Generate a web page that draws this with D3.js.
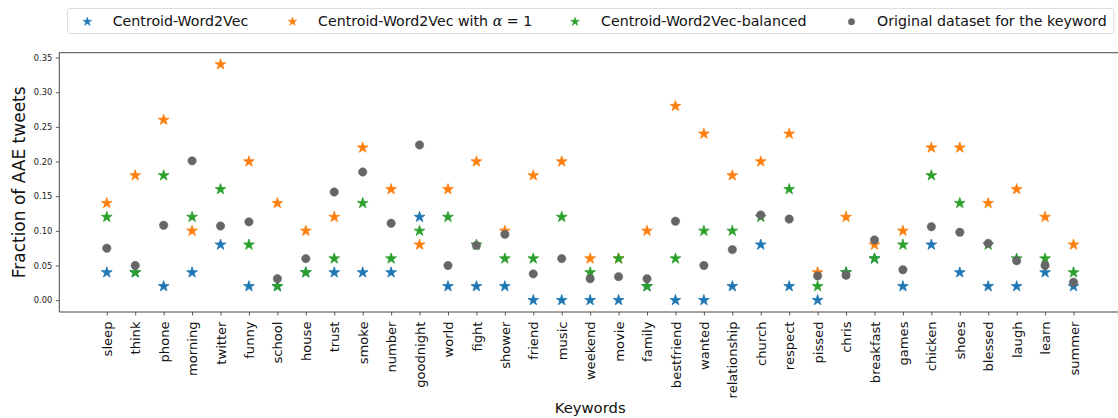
<!DOCTYPE html>
<html><head><meta charset="utf-8">
<script src="https://cdn.jsdelivr.net/npm/d3@7"></script>
<style>body{margin:0;background:#fff}svg{display:block;font-family:"DejaVu Sans",sans-serif}</style>
</head><body><svg id="c" width="1118" height="418"></svg>
<script>
const categories = ["sleep","think","phone","morning","twitter","funny","school","house","trust","smoke","number","goodnight","world","fight","shower","friend","music","weekend","movie","family","bestfriend","wanted","relationship","church","respect","pissed","chris","breakfast","games","chicken","shoes","blessed","laugh","learn","summer"];
const centroid = [0.04,0.04,0.02,0.04,0.08,0.02,0.02,0.04,0.04,0.04,0.04,0.12,0.02,0.02,0.02,0.00,0.00,0.00,0.00,0.02,0.00,0.00,0.02,0.08,0.02,0.00,0.04,0.06,0.02,0.08,0.04,0.02,0.02,0.04,0.02];
const centroidAlpha = [0.14,0.18,0.26,0.10,0.34,0.20,0.14,0.10,0.12,0.22,0.16,0.08,0.16,0.20,0.10,0.18,0.20,0.06,0.06,0.10,0.28,0.24,0.18,0.20,0.24,0.04,0.12,0.08,0.10,0.22,0.22,0.14,0.16,0.12,0.08];
const centroidBalanced = [0.12,0.04,0.18,0.12,0.16,0.08,0.02,0.04,0.06,0.14,0.06,0.10,0.12,0.08,0.06,0.06,0.12,0.04,0.06,0.02,0.06,0.10,0.10,0.12,0.16,0.02,0.04,0.06,0.08,0.18,0.14,0.08,0.06,0.06,0.04];
const original = [0.075,0.050,0.108,0.201,0.107,0.113,0.031,0.060,0.156,0.185,0.111,0.224,0.050,0.079,0.095,0.038,0.060,0.031,0.034,0.031,0.114,0.050,0.073,0.123,0.117,0.035,0.036,0.087,0.044,0.106,0.098,0.082,0.057,0.050,0.026];
const yTicks = [0,0.05,0.10,0.15,0.20,0.25,0.30,0.35];
const seriesNames = ["Centroid-Word2Vec","Centroid-Word2Vec with \u03b1 = 1","Centroid-Word2Vec-balanced","Original dataset for the keyword"];

const svg = d3.select("#c");
const L=59.3, R=1121, T=52.7, B=312;
const x = d3.scalePoint().domain(categories).range([L,R]).padding(1.67);
const y = d3.scaleLinear().domain([-0.017,0.357]).range([B,T]);

const series = [
  {name:seriesNames[0], vals:centroid, color:"#1f77b4", shape:"star"},
  {name:seriesNames[1], vals:centroidAlpha, color:"#ff7f0e", shape:"star"},
  {name:seriesNames[2], vals:centroidBalanced, color:"#2ca02c", shape:"star"},
  {name:seriesNames[3], vals:original, color:"#666666", shape:"circle"}
];
const starBig = d3.symbol().type(d3.symbolStar).size(36);
const circBig = d3.symbol().type(d3.symbolCircle).size(56);

// axes frame
const g = svg.append("g");
g.append("line").attr("x1",L).attr("x2",R).attr("y1",T).attr("y2",T).attr("stroke","#333").attr("stroke-width",0.9);
g.append("line").attr("x1",L).attr("x2",L).attr("y1",T).attr("y2",B).attr("stroke","#333").attr("stroke-width",0.9);

const yAxis = svg.append("g").attr("transform",`translate(${L},0)`)
  .call(d3.axisLeft(y).tickValues(yTicks).tickFormat(d3.format(".2f")).tickSize(3.5).tickPadding(3.5));
yAxis.select(".domain").remove();
yAxis.selectAll("line").attr("stroke","#333").attr("stroke-width",0.8);
yAxis.selectAll("text").attr("font-size","8.3px").attr("fill","#222").attr("font-family","DejaVu Sans");

const xAxis = svg.append("g").attr("transform",`translate(0,${B})`)
  .call(d3.axisBottom(x).tickSize(3.5).tickPadding(3.5));
xAxis.select(".domain").attr("stroke","#333").attr("stroke-width",0.9).attr("d",`M${L},0H${R}`);
xAxis.selectAll("line").attr("stroke","#333").attr("stroke-width",0.8);
xAxis.selectAll("text").attr("font-size","13.1px").attr("fill","#111").attr("font-family","DejaVu Sans")
  .attr("text-anchor","end").attr("transform","rotate(-90)").attr("x",-9.5).attr("y",0).attr("dy","0.35em");

// points
series.forEach(s=>{
  svg.append("g").selectAll("path").data(s.vals).join("path")
    .attr("transform",(d,i)=>`translate(${x(categories[i])},${y(d)})`)
    .attr("d", s.shape==="star"?starBig():circBig())
    .attr("fill",s.color).attr("stroke",s.color).attr("stroke-width",s.shape==="star"?0.8:0.5)
    .attr("stroke-linejoin","round");
});

// labels
svg.append("text").attr("transform",`translate(25,${(T+B)/2}) rotate(-90)`).attr("text-anchor","middle")
  .attr("font-size","17px").attr("fill","#111").text("Fraction of AAE tweets");
svg.append("text").attr("x",(L+R)/2).attr("y",413).attr("text-anchor","middle")
  .attr("font-size","14.8px").attr("fill","#111").text("Keywords");

// legend
const leg = svg.append("g");
leg.append("rect").attr("x",67.5).attr("y",8.5).attr("width",1046.5).attr("height",25).attr("rx",2.5)
  .attr("fill","#fff").attr("stroke","#ddd").attr("stroke-width",1);
const legPos = [{m:87.3,t:112.7},{m:292.5,t:318},{m:575,t:601},{m:851.5,t:877}];
const starSmall = d3.symbol().type(d3.symbolStar).size(24);
const circSmall = d3.symbol().type(d3.symbolCircle).size(32);
series.forEach((s,i)=>{
  leg.append("path").attr("transform",`translate(${legPos[i].m},21.7)`)
    .attr("d", s.shape==="star"?starSmall():circSmall()).attr("fill",s.color)
    .attr("stroke",s.color).attr("stroke-width",0.5);
  const t = leg.append("text").attr("x",legPos[i].t).attr("y",26).attr("font-size","14.2px").attr("fill","#111");
  if(i===1){
    t.append("tspan").text("Centroid-Word2Vec with ");
    t.append("tspan").attr("font-style","italic").attr("font-family","DejaVu Serif").text("\u03b1");
    t.append("tspan").text(" = 1");
  } else t.text(s.name);
});
</script></body></html>
